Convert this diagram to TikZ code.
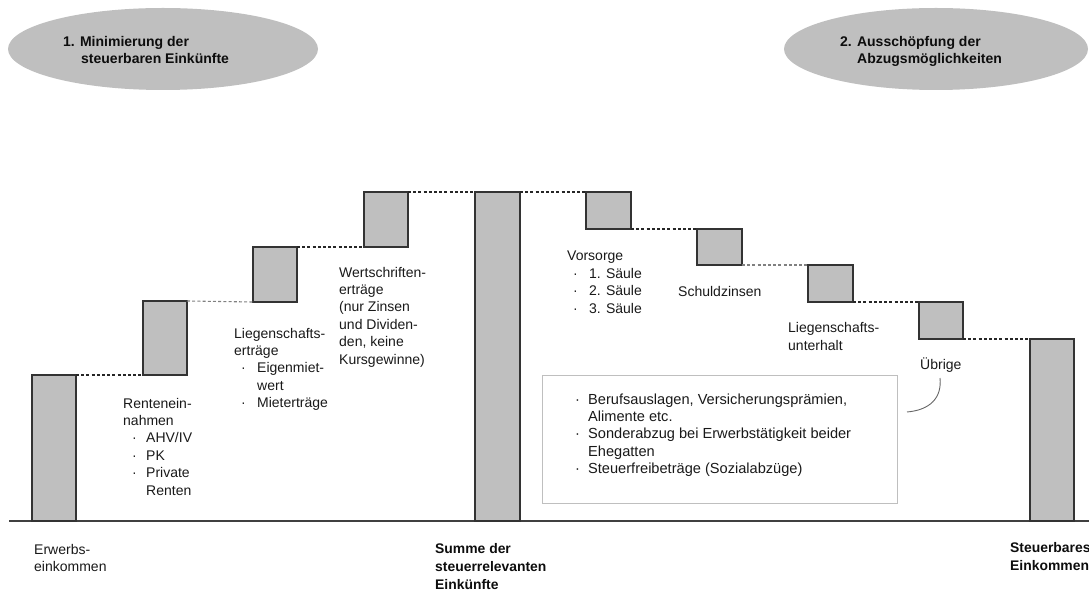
\documentclass[tikz,border=0pt]{standalone}
\usepackage{fontspec}
\setmainfont{Liberation Sans}
\usetikzlibrary{shapes.geometric}
\newcommand\bul[1][15pt]{\makebox[#1][l]{·}}
\begin{document}
\begin{tikzpicture}[x=1pt,y=-1pt,
  bar/.style={draw=black!80, line width=1.3pt, fill=black!25, inner sep=0, outer sep=0, anchor=north west},
  link/.style={black!85, line width=1.1pt, dash pattern=on 3pt off 2.2pt},
  linkg/.style={black!50, line width=1.1pt, dash pattern=on 3pt off 2.2pt},
  lbl/.style={inner sep=0, anchor=base west, align=left, font=\fontsize{14}{17.4}\selectfont, text=black!90},
  nlbl/.style={lbl, font=\fontsize{14.6}{17.4}\selectfont},
  blbl/.style={inner sep=0, anchor=base west, align=left, font=\fontsize{13.9}{18}\selectfont\bfseries, text=black!95},
  olbl/.style={inner sep=0, anchor=base west, align=left, font=\fontsize{14}{17}\selectfont\bfseries, text=black!95},
  oval/.style={ellipse, fill=black!25, inner sep=0, minimum height=82}]
\useasboundingbox (0,0) rectangle (1089,593);
\clip (0,0) rectangle (1089,593);

% (multi-line nodes are placed by the baseline of their last line)

% ellipses
\node[oval, minimum width=310] (e1) at (163,49) {};
\node[oval, minimum width=304] (e2) at (936,49) {};
\node[olbl] (t1) at (63,64) {1. Minimierung der\\\hspace*{18pt}steuerbaren Einkünfte};
\node[olbl] (t2) at (840,64) {2. Ausschöpfung der\\\hspace*{17pt}Abzugsmöglichkeiten};

% baseline
\coordinate (g0) at (9,521);
\coordinate (g1) at (1089,521);
\draw[black!75, line width=1.3pt] (g0) -- (g1);

% bars
\node[bar, minimum width=44, minimum height=146] (b1) at (32,375) {};
\node[bar, minimum width=44, minimum height=74]  (b2) at (143,301) {};
\node[bar, minimum width=44, minimum height=55]  (b3) at (253,247) {};
\node[bar, minimum width=44, minimum height=55]  (b4) at (364,192) {};
\node[bar, minimum width=45, minimum height=329] (b5) at (475,192) {};
\node[bar, minimum width=45, minimum height=37]  (b6) at (586,192) {};
\node[bar, minimum width=45, minimum height=36]  (b7) at (697,229) {};
\node[bar, minimum width=45, minimum height=37]  (b8) at (808,265) {};
\node[bar, minimum width=44, minimum height=37]  (b9) at (919,302) {};
\node[bar, minimum width=44, minimum height=182] (b10) at (1030,339) {};

% dashed links
\draw[link]  (b1.north east) -- (b2.south west);
\draw[linkg] (b2.north east) -- (b3.south west);
\draw[link]  (b3.north east) -- (b4.south west);
\draw[link]  (b4.north east) -- (b5.north west);
\draw[link]  (b5.north east) -- (b6.north west);
\draw[link]  (b6.south east) -- (b7.north west);
\draw[linkg] (b7.south east) -- (b8.north west);
\draw[link]  (b8.south east) -- (b9.north west);
\draw[link]  (b9.south east) -- (b10.north west);

% labels left part
\node[lbl] (l1) at (34,571.4) {Erwerbs-\\einkommen};
\node[lbl] (l2) at (123,495) {Rentenein-\\nahmen\\\hspace*{9pt}\bul[14pt]AHV/IV\\\hspace*{9pt}\bul[14pt]PK\\\hspace*{9pt}\bul[14pt]Private\\\hspace*{23pt}Renten};
\node[lbl] (l3) at (234,407.6) {Liegenschafts-\\erträge\\\hspace*{7pt}\bul[16pt]Eigenmiet-\\\hspace*{23pt}wert\\\hspace*{7pt}\bul[16pt]Mieterträge};
\node[lbl] (l4) at (339,364) {Wertschriften-\\erträge\\(nur Zinsen\\und Dividen-\\den, keine\\Kursgewinne)};
\node[blbl] (l5) at (435,589) {Summe der\\steuerrelevanten\\Einkünfte};

% labels right part
\node[lbl] (l6) at (567,313.2) {Vorsorge\\\hspace*{6pt}\bul[16pt]1. Säule\\\hspace*{6pt}\bul[16pt]2. Säule\\\hspace*{6pt}\bul[16pt]3. Säule};
\node[lbl] (l7) at (678,297) {Schuldzinsen};
\node[lbl] (l8) at (788,350.4) {Liegenschafts-\\unterhalt};
\node[lbl] (l9) at (920,369) {Übrige};
\node[blbl] (l10) at (1010,570) {Steuerbares\\Einkommen};

% note box
\node[draw=black!25, line width=0.8pt, minimum width=355, minimum height=128, anchor=north west, inner sep=0] (note) at (542,375) {};
\node[nlbl] (notetxt) at (575,473.6) {\bul[13pt]Berufsauslagen, Versicherungsprämien,\\\hspace*{13pt}Alimente etc.\\\bul[13pt]Sonderabzug bei Erwerbstätigkeit beider\\\hspace*{13pt}Ehegatten\\\bul[13pt]Steuerfreibeträge (Sozialabzüge)};

% callout curve
\coordinate (c1) at (940,378);
\coordinate (c2) at (907,412);
\draw[black!60, line width=0.9pt] (c1) .. controls (942,398) and (930,410) .. (c2);
\end{tikzpicture}
\end{document}
